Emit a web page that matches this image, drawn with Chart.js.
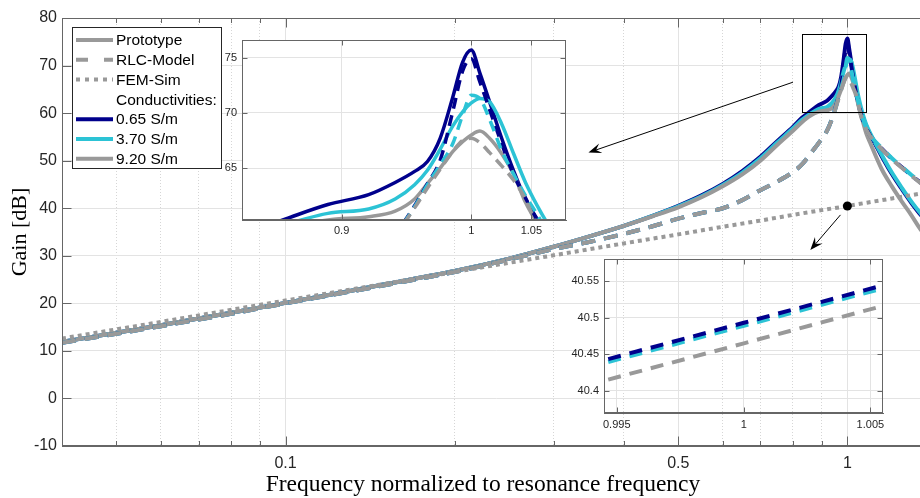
<!DOCTYPE html>
<html>
<head>
<meta charset="utf-8">
<script src="https://cdn.jsdelivr.net/npm/chart.js@4.4.1/dist/chart.umd.min.js"></script>
<style>
  html, body { margin: 0; padding: 0; background: #fff; overflow: hidden; }
  #wrap { position: relative; width: 920px; height: 498px; overflow: hidden; }
  canvas { position: absolute; }
  #main { left: 0; top: 0; }
  #zoomPeak { left: 212px; top: 34px; }
  #zoomFem { left: 560px; top: 254px; }
</style>
</head>
<body>
<div id="wrap">
  <canvas id="main" width="934" height="498"></canvas>
  <canvas id="zoomPeak" width="360" height="210"></canvas>
  <canvas id="zoomFem" width="330" height="185"></canvas>
</div>
<script>
// frequency normalized to resonance frequency
const freq = [0.04, 0.05, 0.06, 0.07, 0.08, 0.1, 0.12, 0.15, 0.2, 0.25, 0.3, 0.35, 0.4, 0.45, 0.5, 0.55, 0.6, 0.65, 0.7, 0.75, 0.8,
  0.83, 0.86, 0.89, 0.92, 0.94, 0.955, 0.965, 0.975, 0.985, 0.993, 1.0, 1.007, 1.015, 1.025, 1.035, 1.045, 1.055, 1.065, 1.08,
  1.1, 1.15, 1.2, 1.25, 1.3, 1.35, 1.4];

// Prototype (measured), gain in dB
const protoNavy = [11.9, 13.8, 15.4, 16.8, 18.0, 20.1, 21.8, 24.0, 26.8, 29.4, 31.9, 34.2, 36.3, 38.4, 40.5, 42.7, 45.1, 47.8, 50.8, 54.1, 57.1,
  59.0, 60.4, 61.7, 62.6, 63.7, 64.7, 65.6, 67.7, 71.4, 74.6, 75.7, 73.6, 71.0, 67.7, 64.75, 62.2, 60.4, 59.2, 57.3,
  55.3, 51.0, 47.2, 44.0, 41.1, 38.6, 36.3];
const protoCyan = [11.9, 13.8, 15.4, 16.8, 18.0, 20.1, 21.8, 24.0, 26.8, 29.4, 31.9, 34.2, 36.3, 38.4, 40.4, 42.5, 44.9, 47.5, 50.5, 53.8, 56.8,
  58.6, 59.9, 60.9, 61.3, 62.2, 63.5, 64.8, 66.7, 68.8, 70.1, 70.9, 71.3, 71.0, 69.0, 66.3, 63.7, 61.6, 59.8, 57.6,
  55.6, 51.3, 47.5, 44.3, 41.4, 38.9, 36.6];
const protoGray = [11.9, 13.8, 15.4, 16.8, 18.0, 20.1, 21.8, 24.0, 26.8, 29.4, 31.9, 34.2, 36.3, 38.3, 40.2, 42.3, 44.6, 47.1, 50.0, 53.3, 56.3,
  58.1, 59.5, 60.3, 60.6, 61.1, 62.2, 63.6, 65.0, 66.5, 67.4, 68.0, 68.35, 67.7, 66.3, 64.45, 61.9, 60.0, 58.3, 55.8,
  53.5, 48.3, 44.6, 41.4, 38.5, 35.5, 33.2];

// RLC-Model
const rlcNavy = [11.7, 13.6, 15.2, 16.6, 17.8, 20.0, 21.7, 23.8, 26.6, 29.2, 31.4, 33.0, 34.6, 36.2, 37.8, 39.0, 40.0, 41.7, 43.8, 45.6, 47.6,
  49.2, 51.5, 53.8, 56.3, 59.0, 61.6, 63.6, 65.7, 70.1, 73.8, 74.9, 72.8, 70.3, 67.2, 64.4, 62.3, 60.3, 58.6, 56.8,
  55.1, 52.6, 50.4, 48.6, 46.9, 45.4, 44.1];
const rlcCyan = [11.7, 13.6, 15.2, 16.6, 17.8, 20.0, 21.7, 23.8, 26.6, 29.2, 31.4, 33.0, 34.6, 36.2, 37.8, 39.0, 40.0, 41.7, 43.8, 45.6, 47.6,
  49.2, 51.5, 53.8, 56.3, 59.0, 61.5, 63.5, 65.3, 67.2, 69.8, 71.6, 71.3, 69.4, 66.6, 64.45, 62.5, 60.8, 58.9, 57.0,
  55.2, 52.7, 50.5, 48.7, 47.0, 45.5, 44.2];
const rlcGray = [11.7, 13.6, 15.2, 16.6, 17.8, 20.0, 21.7, 23.8, 26.6, 29.2, 31.4, 33.0, 34.6, 36.2, 37.8, 39.0, 40.0, 41.7, 43.8, 45.6, 47.6,
  49.2, 51.5, 53.8, 56.3, 58.9, 61.4, 63.2, 64.9, 66.5, 67.5, 67.7, 67.3, 66.4, 65.2, 63.9, 62.2, 59.8, 58.3, 56.6,
  55.0, 52.5, 50.3, 48.5, 46.8, 45.3, 44.0];

// FEM-Sim
const freqFem = [0.04, 0.06, 0.1, 0.15, 0.2, 0.3, 0.4, 0.5, 0.6, 0.7, 0.8, 0.9, 0.993, 1.0, 1.007, 1.1, 1.2, 1.3, 1.4];
const femNavy = [12.6, 16.1, 20.6, 24.1, 26.6, 30.1, 32.6, 34.5, 36.1, 37.4, 38.6, 39.6, 40.428, 40.493, 40.558, 41.3, 42.1, 42.8, 43.4];
const femCyan = [12.6, 16.1, 20.6, 24.1, 26.6, 30.1, 32.6, 34.5, 36.1, 37.4, 38.6, 39.6, 40.424, 40.489, 40.554, 41.3, 42.1, 42.8, 43.4];
const femGray = [12.6, 16.1, 20.6, 24.1, 26.6, 30.1, 32.6, 34.5, 36.1, 37.4, 38.6, 39.6, 40.400, 40.465, 40.530, 41.3, 42.05, 42.75, 43.4];

// ticks
const mainXTicks = [0.05, 0.06, 0.07, 0.08, 0.09, 0.1, 0.2, 0.3, 0.4, 0.5, 0.6, 0.7, 0.8, 0.9, 1];
const mainXMajor = [0.1, 0.5, 1];
const mainXLabels = ['0.1', '0.5', '1'];
const peakXTicks = [0.9, 1, 1.05];
const peakXLabels = ['0.9', '1', '1.05'];
const peakYTicks = [65, 70, 75];
const femXTicks = [0.995, 1, 1.005];
const femXLabels = ['0.995', '1', '1.005'];
const femYTicks = [40.4, 40.45, 40.5, 40.55];
const femYLabels = ['40.4', '40.45', '40.5', '40.55'];

const legendLabels = ['Prototype', 'RLC-Model', 'FEM-Sim', 'Conductivities:', '0.65 S/m', '3.70 S/m', '9.20 S/m'];
const xTitle = 'Frequency normalized to resonance frequency';
const yTitle = 'Gain [dB]';

// ---- styling ----
const NAVY = '#00008c', CYAN = '#2cc3d5', GRAY = '#999999';
const AXIS = '#666666', TEXT = '#262626';
const GRID = '#e3e3e3', GRID_MINOR = '#d6d6d6';
const SANS = "'Liberation Sans', Arial, sans-serif";
const SERIF = "'Liberation Serif', 'Times New Roman', serif";
const DASH = [14, 9], DOT = [4, 4];

Chart.defaults.font.family = SANS;
Chart.defaults.color = TEXT;
Chart.defaults.animation = false;

const pts = (xs, ys, lo = -Infinity, hi = Infinity) =>
  xs.map((x, i) => ({x, y: ys[i]})).filter(p => p.x >= lo && p.x <= hi);

function line(xs, ys, color, dash, width, order, range) {
  const r = range || [];
  return {
    data: pts(xs, ys, r[0], r[1]),
    borderColor: color, borderWidth: width, borderDash: dash,
    pointRadius: 0, fill: false, order,
    cubicInterpolationMode: 'monotone',
  };
}

// fixed axis sizes, no extra padding for the edge labels
const fitX = h => s => { s.height = h; s.paddingLeft = 0; s.paddingRight = 0; };
const fitY = w => s => { s.width = w; s.paddingTop = 0; s.paddingBottom = 0; };

// box around the axes and inward tick marks, like the original plot
const frame = {
  id: 'frame',
  beforeDraw(chart, args, opt) {
    if (!opt.fill) return;
    const a = chart.chartArea;
    chart.ctx.save();
    chart.ctx.fillStyle = '#fff';
    chart.ctx.fillRect(a.left, a.top, a.right - a.left, a.bottom - a.top);
    chart.ctx.restore();
  },
  afterDraw(chart, args, opt) {
    const {ctx, chartArea: a} = chart;
    const xs = chart.scales.x, ys = chart.scales.y;
    ctx.save();
    ctx.strokeStyle = AXIS;
    ctx.lineWidth = 1;
    const L = Math.round(a.left) + 0.5, T = Math.round(a.top) + 0.5;
    const R = Math.round(a.right) - 0.5, B = Math.round(a.bottom) - 0.5;
    ctx.strokeRect(L, T, R - L, B - T);
    ctx.beginPath();
    xs.ticks.forEach(t => {
      const px = Math.round(xs.getPixelForValue(t.value)) + 0.5;
      const len = opt.major && !opt.major.includes(t.value) ? opt.len / 2 : opt.len;
      ctx.moveTo(px, B); ctx.lineTo(px, B - len);
      ctx.moveTo(px, T); ctx.lineTo(px, T + len);
    });
    ys.ticks.forEach(t => {
      const py = Math.round(ys.getPixelForValue(t.value)) + 0.5;
      ctx.moveTo(L, py); ctx.lineTo(L + opt.len, py);
      ctx.moveTo(R, py); ctx.lineTo(R - opt.len, py);
    });
    ctx.stroke();
    ctx.restore();
  }
};

function arrow(ctx, x1, y1, x2, y2) {
  const ang = Math.atan2(y2 - y1, x2 - x1), c = Math.cos(ang), s = Math.sin(ang);
  const L = 13, W = 5, N = 8;
  ctx.beginPath();
  ctx.moveTo(x1, y1);
  ctx.lineTo(x2 - N * c, y2 - N * s);
  ctx.stroke();
  ctx.beginPath();
  ctx.moveTo(x2, y2);
  ctx.lineTo(x2 - L * c + W * s, y2 - L * s - W * c);
  ctx.lineTo(x2 - N * c, y2 - N * s);
  ctx.lineTo(x2 - L * c - W * s, y2 - L * s + W * c);
  ctx.closePath();
  ctx.fill();
}

const peakRange = {x: [0.83, 1.08], y: [60.3, 76.6]};
const femRange = {x: [0.9945, 1.0055], y: [40.37, 40.58]};

// zoom frame, arrows, legend and x title of the main plot
const legendStyle = [
  {color: GRAY, dash: []}, {color: GRAY, dash: [12, 16]}, {color: GRAY, dash: [4, 5]},
  {color: null}, {color: NAVY, dash: []}, {color: CYAN, dash: []}, {color: GRAY, dash: []}
];
const notes = {
  id: 'notes',
  afterDraw(chart) {
    const {ctx, chartArea: a} = chart;
    const xs = chart.scales.x, ys = chart.scales.y;
    const P = (f, g) => [xs.getPixelForValue(f), ys.getPixelForValue(g)];
    ctx.save();
    const [rx1, ry1] = P(peakRange.x[0], peakRange.y[1]);
    const [rx2, ry2] = P(peakRange.x[1], peakRange.y[0]);
    ctx.strokeStyle = '#000'; ctx.fillStyle = '#000'; ctx.lineWidth = 1;
    ctx.strokeRect(Math.round(rx1) + 0.5, Math.round(ry1) + 0.5, Math.round(rx2 - rx1), Math.round(ry2 - ry1));
    arrow(ctx, ...P(0.80, 66.5), ...P(0.346, 51.7));
    arrow(ctx, ...P(0.972, 38.6), ...P(0.859, 31.2));

    // x axis title (the original is centred on the uncropped axes)
    ctx.font = '23.5px ' + SERIF;
    ctx.textAlign = 'center';
    ctx.textBaseline = 'middle';
    ctx.fillText(xTitle, 483, 485);

    // legend
    const lx = a.left + 10, ly = a.top + 9, lw = 149, lh = 141;
    ctx.fillStyle = '#fff';
    ctx.fillRect(lx, ly, lw, lh);
    ctx.strokeStyle = TEXT;
    ctx.strokeRect(Math.round(lx) + 0.5, Math.round(ly) + 0.5, lw, lh);
    ctx.font = '15.5px ' + SANS;
    ctx.textAlign = 'left';
    legendLabels.forEach((txt, i) => {
      const cy = ly + 13 + i * 19.8;
      const st = legendStyle[i];
      if (st.color) {
        ctx.beginPath();
        ctx.strokeStyle = st.color; ctx.lineWidth = 4; ctx.setLineDash(st.dash);
        ctx.moveTo(lx + 4, cy); ctx.lineTo(lx + 41, cy);
        ctx.stroke();
        ctx.setLineDash([]);
      }
      ctx.fillStyle = '#000';
      ctx.fillText(txt, lx + 44, cy + 1);
    });
    ctx.restore();
  }
};

const tickList = list => scale => { scale.ticks = list.map(v => ({value: v})); };
const labelOf = (vals, labels) => v => { const i = vals.indexOf(v); return i < 0 ? '' : labels[i]; };

// ---- main plot ----
new Chart(document.getElementById('main'), {
  type: 'line',
  data: {
    datasets: [
      {type: 'scatter', data: [{x: 1, y: femGray[freqFem.indexOf(1.0)]}], pointRadius: 4.5, pointBackgroundColor: '#000', pointBorderWidth: 0, order: 0},
      line(freqFem, femGray, GRAY, DOT, 4, 1),
      line(freq, rlcGray, GRAY, DASH, 4, 4),
      line(freq, rlcCyan, CYAN, DASH, 4, 5),
      line(freq, rlcNavy, NAVY, DASH, 4, 6),
      line(freq, protoGray, GRAY, [], 4, 7),
      line(freq, protoCyan, CYAN, [], 4, 8),
      line(freq, protoNavy, NAVY, [], 4, 9),
    ]
  },
  options: {
    responsive: false,
    layout: {padding: {top: 18, left: 0, right: 0, bottom: 0}},
    plugins: {legend: {display: false}, tooltip: {enabled: false}, frame: {len: 9, major: mainXMajor}},
    scales: {
      x: {
        type: 'logarithmic', min: 0.04, max: 1.4,
        afterBuildTicks: tickList(mainXTicks),
        afterFit: fitX(52),
        ticks: {autoSkip: false, maxRotation: 0, padding: 8, font: {size: 16}, callback: labelOf(mainXMajor, mainXLabels)},
        grid: {drawTicks: false, color: c => mainXMajor.includes(c.tick.value) ? GRID : GRID_MINOR},
        border: {color: AXIS, dash: c => (c.tick && !mainXMajor.includes(c.tick.value)) ? [1, 2] : []}
      },
      y: {
        type: 'linear', min: -10, max: 80,
        afterFit: fitY(62),
        ticks: {stepSize: 10, padding: 5, font: {size: 16}},
        grid: {drawTicks: false, color: GRID},
        border: {color: AXIS},
        title: {display: true, text: yTitle, color: '#000',
          font: {family: SERIF, size: 22}, padding: {top: 7, bottom: 0}}
      }
    }
  },
  plugins: [frame, notes]
});

// ---- zoom on the resonance peak ----
const pr = [0.8, 1.1];
new Chart(document.getElementById('zoomPeak'), {
  type: 'line',
  data: {
    datasets: [
      line(freq, rlcGray, GRAY, [11, 7], 3.5, 4, pr),
      line(freq, rlcCyan, CYAN, [11, 7], 3.5, 5, pr),
      line(freq, rlcNavy, NAVY, [11, 7], 3.5, 6, pr),
      line(freq, protoGray, GRAY, [], 3.5, 7, pr),
      line(freq, protoCyan, CYAN, [], 3.5, 8, pr),
      line(freq, protoNavy, NAVY, [], 3.5, 9, pr),
    ].map(d => Object.assign(d, {clip: 0}))
  },
  options: {
    responsive: false,
    layout: {padding: {top: 6, right: 6, left: 0, bottom: 0}},
    plugins: {legend: {display: false}, tooltip: {enabled: false}, frame: {len: 5, fill: true}},
    scales: {
      x: {
        type: 'logarithmic', min: peakRange.x[0], max: peakRange.x[1],
        afterBuildTicks: tickList(peakXTicks),
        afterFit: fitX(24),
        ticks: {autoSkip: false, maxRotation: 0, padding: 4, font: {size: 11}, callback: labelOf(peakXTicks, peakXLabels)},
        grid: {drawTicks: false, color: GRID},
        border: {color: AXIS}
      },
      y: {
        type: 'linear', min: peakRange.y[0], max: peakRange.y[1],
        afterBuildTicks: tickList(peakYTicks),
        afterFit: fitY(30),
        ticks: {padding: 5, font: {size: 11}},
        grid: {drawTicks: false, color: GRID},
        border: {color: AXIS}
      }
    }
  },
  plugins: [frame]
});

// ---- zoom on the FEM curves at resonance ----
const fr = [0.9, 1.1];
new Chart(document.getElementById('zoomFem'), {
  type: 'line',
  data: {
    datasets: [
      line(freqFem, femGray, GRAY, [13, 9], 4, 3, fr),
      line(freqFem, femCyan, CYAN, [13, 9], 4, 2, fr),
      line(freqFem, femNavy, NAVY, [13, 9], 4, 1, fr),
    ].map(d => Object.assign(d, {clip: 0, cubicInterpolationMode: 'default', tension: 0}))
  },
  options: {
    responsive: false,
    layout: {padding: {top: 5, right: 7, left: 0, bottom: 0}},
    plugins: {legend: {display: false}, tooltip: {enabled: false}, frame: {len: 5}},
    scales: {
      x: {
        type: 'logarithmic', min: femRange.x[0], max: femRange.x[1],
        afterBuildTicks: tickList(femXTicks),
        afterFit: fitX(26),
        ticks: {autoSkip: false, maxRotation: 0, padding: 5, font: {size: 11}, callback: labelOf(femXTicks, femXLabels)},
        grid: {drawTicks: false, color: GRID},
        border: {color: AXIS}
      },
      y: {
        type: 'linear', min: femRange.y[0], max: femRange.y[1],
        afterBuildTicks: tickList(femYTicks),
        afterFit: fitY(44),
        ticks: {padding: 5, font: {size: 11}, callback: labelOf(femYTicks, femYLabels)},
        grid: {drawTicks: false, color: GRID},
        border: {color: AXIS}
      }
    }
  },
  plugins: [frame]
});
</script>
</body>
</html>
